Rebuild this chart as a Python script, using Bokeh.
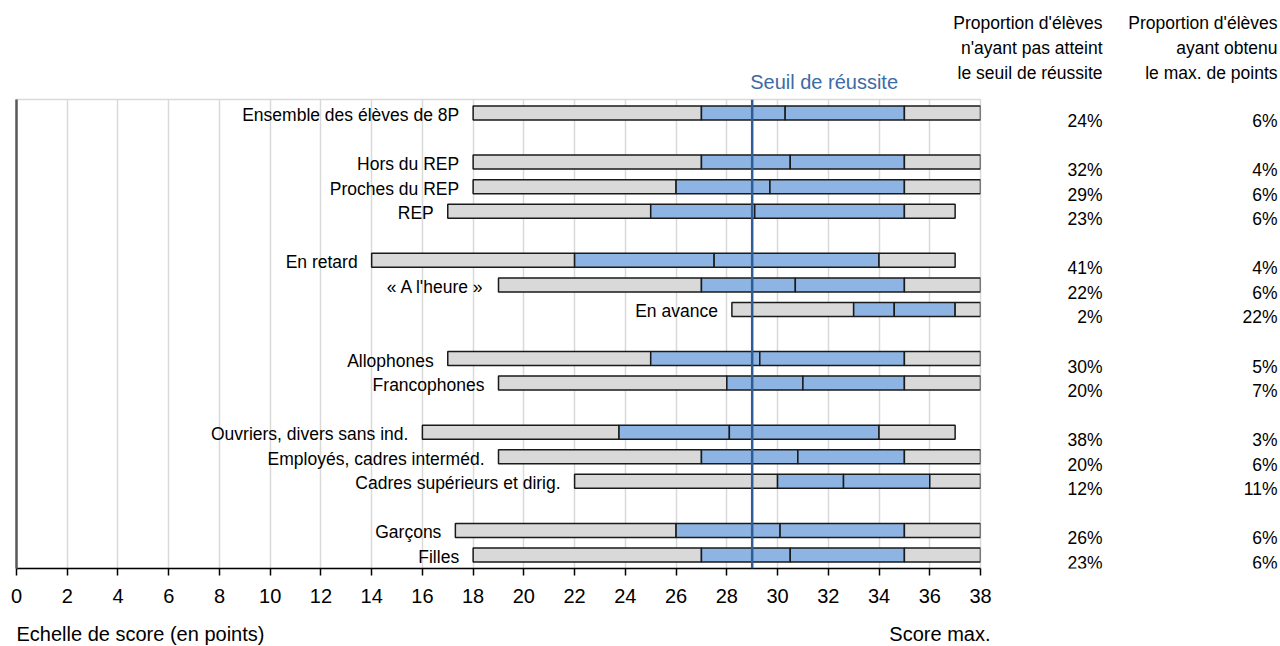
from bokeh.plotting import figure
from bokeh.layouts import row, column
from bokeh.models import Range1d, FixedTicker, Span, ColumnDataSource
from bokeh.core.properties import value
from bokeh.embed import file_html
from bokeh.resources import INLINE

# ---------------- data ----------------
categories = ["Ensemble des élèves de 8P", "Hors du REP", "Proches du REP", "REP",
              "En retard", "« A l'heure »", "En avance", "Allophones", "Francophones",
              "Ouvriers, divers sans ind.", "Employés, cadres interméd.",
              "Cadres supérieurs et dirig.", "Garçons", "Filles"]
rows = [0, 2, 3, 4, 6, 7, 8, 10, 11, 13, 14, 15, 17, 18]
p10 = [18, 18, 18, 17, 14, 19, 28.2, 17, 19, 16, 19, 22, 17.3, 18]
q1 = [27, 27, 26, 25, 22, 27, 33, 25, 28, 23.75, 27, 30, 26, 27]
med = [30.3, 30.5, 29.7, 29.1, 27.5, 30.7, 34.6, 29.3, 31, 28.1, 30.8, 32.6, 30.1, 30.5]
q3 = [35, 35, 35, 35, 34, 35, 37, 35, 35, 34, 35, 36, 35, 35]
p90 = [38, 38, 38, 37, 37, 38, 38, 38, 38, 37, 38, 38, 38, 38]
pct_below = ["24%", "32%", "29%", "23%", "41%", "22%", "2%", "30%", "20%",
             "38%", "20%", "12%", "26%", "23%"]
pct_max = ["6%", "4%", "6%", "6%", "4%", "6%", "22%", "5%", "7%",
           "3%", "6%", "11%", "6%", "6%"]
x_ticks = list(range(0, 39, 2))
threshold = 29
threshold_label = "Seuil de réussite"
header_below = ["Proportion d'élèves", "n'ayant pas atteint", "le seuil de réussite"]
header_max = ["Proportion d'élèves", "ayant obtenu", "le max. de points"]
footer_left = "Echelle de score (en points)"
footer_right = "Score max."

# ---------------- layout constants (pixels) ----------------
W, H = 1280, 646
LEFT_W = 1000                      # width of the main chart figure
FL, FR, FT, FB = 16, 980, 99, 568  # frame of the main chart in page pixels
AXIS_H = 47                        # space below the main frame for the axis
XMIN, XMAX = 0, 38
YTOP, YBOT = -0.55, 18.55
FONT = value("Liberation Sans")
FONT_NAME = "Liberation Sans"

def xd(px):
    return XMIN + (px - FL) * (XMAX - XMIN) / (FR - FL)

def yd(py):
    return YTOP + (py - FT) * (YBOT - YTOP) / (FB - FT)

GRAY = "#D9D9D9"
BLUE = "#8DB4E2"
EDGE = "#1A1A1A"
SEUIL = "#2F5E96"
SEUIL_TXT = "#3D6BA4"

def blank(fig):
    fig.outline_line_color = None
    fig.xgrid.grid_line_color = None
    fig.ygrid.grid_line_color = None
    fig.background_fill_color = "white"
    fig.border_fill_color = "white"
    return fig

def strip(height, y_top_px):
    fig = figure(width=W, height=height, x_range=Range1d(xd(0), xd(W)),
                 y_range=Range1d(y_top_px + height, y_top_px),
                 output_backend="svg", toolbar_location=None, x_axis_location=None,
                 y_axis_location=None, min_border_left=0, min_border_right=0,
                 min_border_top=0, min_border_bottom=0)
    return blank(fig)

# ---------- top strip: threshold label + column headers ----------
top_h = FT - 1
top = strip(top_h, 0)
top.text(x=[threshold], y=[81], text=[threshold_label], x_offset=-2, text_align="left",
         text_baseline="middle", text_font=FONT, text_font_size="20px", text_color=SEUIL_TXT)
for xpx, lines in [(1102, header_below), (1277, header_max)]:
    top.text(x=[xd(xpx)] * 3, y=[22 + 25 * i for i in range(3)], text=lines,
             text_align="right", text_baseline="middle", text_font=FONT,
             text_font_size="17.5px", text_color="black")

# ---------- main chart ----------
main_h = 1 + (FB - FT) + AXIS_H
y_range = Range1d(YBOT, YTOP)
p = figure(width=LEFT_W, height=main_h, x_range=Range1d(XMIN, XMAX), y_range=y_range,
           output_backend="svg", toolbar_location=None,
           min_border_left=FL, min_border_right=LEFT_W - FR, min_border_top=1,
           min_border_bottom=AXIS_H)
p.background_fill_color = "white"
p.border_fill_color = "white"
p.outline_line_color = GRAY
p.outline_line_width = 1.5

ax = p.xaxis[0]
ax.ticker = FixedTicker(ticks=x_ticks)
ax.axis_line_color = "black"
ax.axis_line_width = 1.5
ax.major_tick_line_color = "black"
ax.major_tick_line_width = 1.5
ax.major_tick_out = 7
ax.major_tick_in = 0
ax.minor_tick_line_color = None
ax.major_label_text_font = FONT_NAME
ax.major_label_text_font_size = "20px"
ax.major_label_text_color = "black"
ax.major_label_standoff = 13

ay = p.yaxis[0]
ay.ticker = FixedTicker(ticks=[])
ay.major_tick_line_color = None
ay.minor_tick_line_color = None
ay.major_label_text_font_size = "0px"
ay.axis_line_color = "#595959"
ay.axis_line_width = 2.5

p.xgrid.ticker = FixedTicker(ticks=x_ticks)
p.xgrid.grid_line_color = GRAY
p.xgrid.grid_line_width = 1.5
p.ygrid.grid_line_color = None

segments = [(p10, q1, GRAY), (q1, med, BLUE), (med, q3, BLUE), (q3, p90, GRAY)]
for left, right, col in segments:
    p.hbar(y=rows, left=left, right=right, height=0.57, fill_color=col,
           line_color=EDGE, line_width=1.5)

p.text(x=p10, y=rows, text=categories, text_align="right", text_baseline="middle",
       x_offset=-14, y_offset=2, text_font=FONT, text_font_size="17.5px", text_color="black")

p.add_layout(Span(location=threshold, dimension="height", line_color=SEUIL, line_width=2.5))

# ---------- right table (same vertical frame as the main chart) ----------
RW = W - LEFT_W
tab = figure(width=RW, height=main_h, x_range=Range1d(LEFT_W, W), y_range=y_range,
             output_backend="svg", toolbar_location=None, x_axis_location=None,
             y_axis_location=None, min_border_left=0, min_border_right=0,
             min_border_top=1, min_border_bottom=AXIS_H)
blank(tab)
shift = 8 * (YBOT - YTOP) / (FB - FT)
src = ColumnDataSource(dict(y=[r + shift for r in rows], below=pct_below, mx=pct_max))
for xpx, field in [(1102, "below"), (1277, "mx")]:
    tab.text(x=xpx, y="y", text=field, source=src, text_align="right",
             text_baseline="middle", text_font=FONT, text_font_size="17.5px",
             text_color="black")

# ---------- footer strip ----------
foot_h = H - top_h - main_h
foot = strip(foot_h, top_h + main_h)
foot.text(x=[xd(16), xd(990)], y=[633, 633], text=[footer_left, footer_right],
          text_align=["left", "right"], text_baseline="middle", text_font=FONT,
          text_font_size="20px", text_color="black")

layout = column(top, row(p, tab, spacing=0), foot, spacing=0)
open("out.html", "w").write(file_html(layout, INLINE))
